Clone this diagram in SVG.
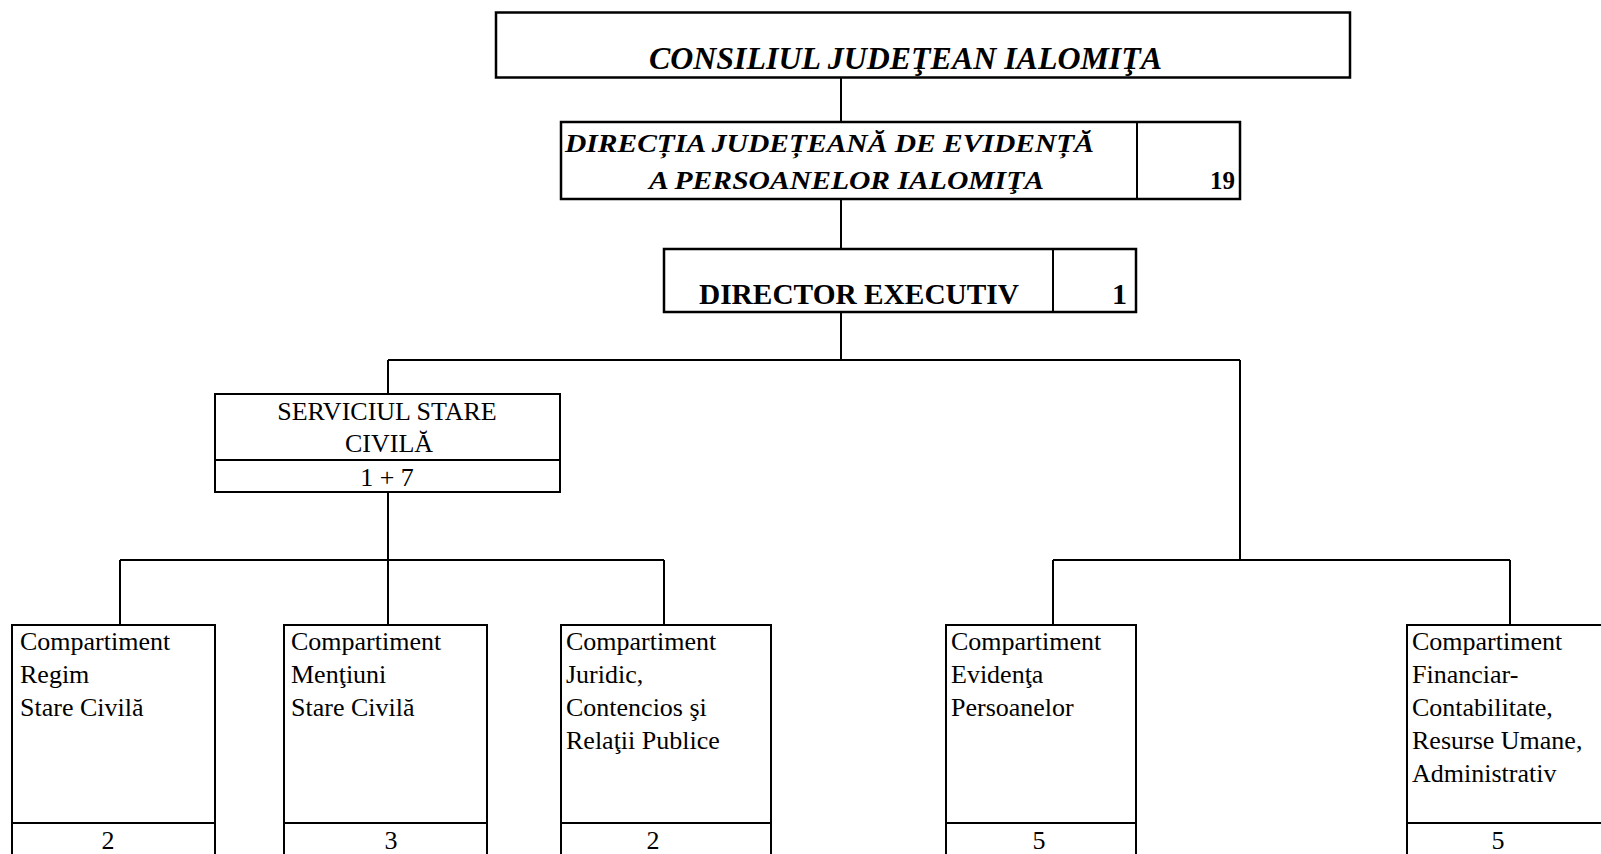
<svg xmlns="http://www.w3.org/2000/svg" width="1601" height="854" viewBox="0 0 1601 854">
<style>
.box{fill:#fff;stroke:#000;stroke-width:2}
.bx{fill:#fff;stroke:#000;stroke-width:2.5}
.ln{fill:none;stroke:#000;stroke-width:2}
.t{font-family:"Liberation Serif","Times New Roman",serif;font-size:26px;fill:#000}
.bi{font-weight:bold;font-style:italic}
.b{font-weight:bold}
.s33{font-size:32px}
.s25{font-size:25px}
.s30{font-size:30px}
</style>
<rect width="1601" height="854" fill="#fff"/>
<g id="connectors">
<path class="ln" d="M841 78V122M841 200V249M841 312V360M388 360H1240M388 360V394M1240 360V560M388 492V560M120 560H664M120 560V625M388 560V625M664 560V625M1053 560H1510M1053 560V625M1510 560V625"/>
</g>
<g id="consiliul">
<rect class="bx" x="496" y="12.5" width="854" height="65"/>
<text class="t bi s33" x="649" y="69" textLength="513" lengthAdjust="spacingAndGlyphs">CONSILIUL JUDEŢEAN IALOMIŢA</text>
</g>
<g id="directia">
<rect class="bx" x="561" y="122" width="679" height="77"/>
<line class="ln" x1="1137" y1="122" x2="1137" y2="199"/>
<text class="t bi" x="565" y="152" textLength="529" lengthAdjust="spacingAndGlyphs">DIRECȚIA JUDEȚEANĂ DE EVIDENȚĂ</text>
<text class="t bi" x="649" y="189" textLength="395" lengthAdjust="spacingAndGlyphs">A PERSOANELOR IALOMIŢA</text>
<text class="t b s25" x="1235" y="189" text-anchor="end">19</text>
</g>
<g id="director">
<rect class="bx" x="664" y="249" width="472" height="63"/>
<line class="ln" x1="1053" y1="249" x2="1053" y2="312"/>
<text class="t b s30" x="699" y="304" textLength="320" lengthAdjust="spacingAndGlyphs">DIRECTOR EXECUTIV</text>
<text class="t b s30" x="1127" y="304" text-anchor="end">1</text>
</g>
<g id="serviciul">
<rect class="box" x="215" y="394" width="345" height="98"/>
<line class="ln" x1="215" y1="460" x2="560" y2="460"/>
<text class="t" x="387" y="420" text-anchor="middle">SERVICIUL STARE</text>
<text class="t" x="389" y="452" text-anchor="middle">CIVILĂ</text>
<text class="t" x="387" y="486" text-anchor="middle">1 + 7</text>
</g>
<g id="regim">
<rect class="box" x="12" y="625" width="203" height="240"/>
<line class="ln" x1="12" y1="823" x2="215" y2="823"/>
<text class="t" x="20" y="650">Compartiment</text>
<text class="t" x="20" y="683">Regim</text>
<text class="t" x="20" y="716">Stare Civilă</text>
<text class="t" x="108" y="849" text-anchor="middle">2</text>
</g>
<g id="mentiuni">
<rect class="box" x="284" y="625" width="203" height="240"/>
<line class="ln" x1="284" y1="823" x2="487" y2="823"/>
<text class="t" x="291" y="650">Compartiment</text>
<text class="t" x="291" y="683">Menţiuni</text>
<text class="t" x="291" y="716">Stare Civilă</text>
<text class="t" x="391" y="849" text-anchor="middle">3</text>
</g>
<g id="juridic">
<rect class="box" x="561" y="625" width="210" height="240"/>
<line class="ln" x1="561" y1="823" x2="771" y2="823"/>
<text class="t" x="566" y="650">Compartiment</text>
<text class="t" x="566" y="683">Juridic,</text>
<text class="t" x="566" y="716">Contencios şi</text>
<text class="t" x="566" y="749">Relaţii Publice</text>
<text class="t" x="653" y="849" text-anchor="middle">2</text>
</g>
<g id="evidenta">
<rect class="box" x="946" y="625" width="190" height="240"/>
<line class="ln" x1="946" y1="823" x2="1136" y2="823"/>
<text class="t" x="951" y="650">Compartiment</text>
<text class="t" x="951" y="683">Evidenţa</text>
<text class="t" x="951" y="716">Persoanelor</text>
<text class="t" x="1039" y="849" text-anchor="middle">5</text>
</g>
<g id="financiar">
<rect class="box" x="1407" y="625" width="210" height="240"/>
<line class="ln" x1="1407" y1="823" x2="1617" y2="823"/>
<text class="t" x="1412" y="650">Compartiment</text>
<text class="t" x="1412" y="683">Financiar-</text>
<text class="t" x="1412" y="716">Contabilitate,</text>
<text class="t" x="1412" y="749">Resurse Umane,</text>
<text class="t" x="1412" y="782">Administrativ</text>
<text class="t" x="1498" y="849" text-anchor="middle">5</text>
</g>
</svg>
